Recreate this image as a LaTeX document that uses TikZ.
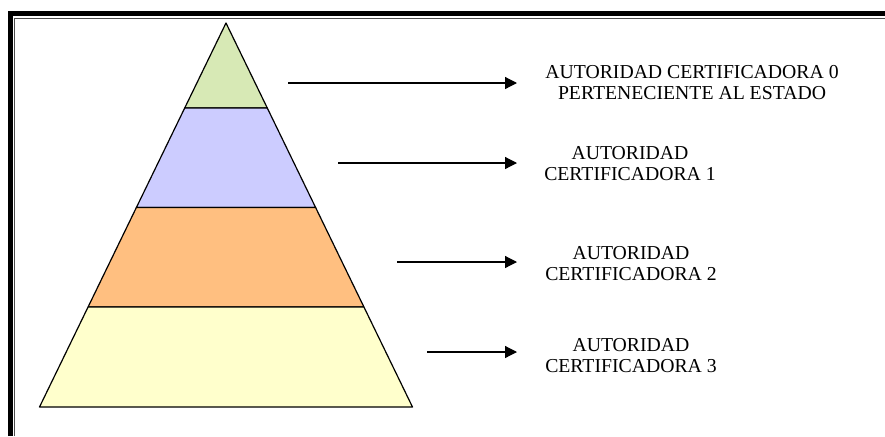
\documentclass[tikz,border=0pt]{standalone}
\usepackage{fontspec}
\setmainfont{Liberation Serif}
\usetikzlibrary{positioning}
\usetikzlibrary{calc}
\usetikzlibrary{arrows.meta}

\definecolor{capaverde}{RGB}{215,233,181}
\definecolor{capalila}{RGB}{204,204,255}
\definecolor{capanaranja}{RGB}{255,191,128}
\definecolor{capaamarilla}{RGB}{255,255,204}

\tikzset{
  capa/.style={draw=black, line width=0.9pt, line join=round},
  flecha/.style={black, line width=0.9pt, -{Triangle[length=9pt,width=9pt]}},
  rotulo/.style={align=center, inner sep=0pt, font=\fontsize{14.8}{16.1}\selectfont}
}

\begin{document}
\begin{tikzpicture}[x=0.75pt,y=-0.75pt]

\useasboundingbox (0,0) rectangle (885,436);

% marco
\draw[black, line width=3.75pt] (10,436)--(10,13.5)--(885,13.5);
\draw[black!70, line width=0.75pt] (14.5,436)--(14.5,18)--(885,18);

% piramide
\coordinate (cima) at (226,23);
\coordinate (izq) at (39.5,407);
\coordinate (der) at (412.5,407);

\coordinate (i1) at ($(cima)!0.2214!(izq)$);
\coordinate (d1) at ($(cima)!0.2214!(der)$);
\coordinate (i2) at ($(cima)!0.4805!(izq)$);
\coordinate (d2) at ($(cima)!0.4805!(der)$);
\coordinate (i3) at ($(cima)!0.7396!(izq)$);
\coordinate (d3) at ($(cima)!0.7396!(der)$);

\draw[capa, fill=capaverde] (cima)--(d1)--(i1)--cycle;
\draw[capa, fill=capalila] (i1)--(d1)--(d2)--(i2)--cycle;
\draw[capa, fill=capanaranja] (i2)--(d2)--(d3)--(i3)--cycle;
\draw[capa, fill=capaamarilla] (i3)--(d3)--(der)--(izq)--cycle;

% nodes
{
\node[rotulo] (ac0) at (692,82.3) {AUTORIDAD CERTIFICADORA 0\\PERTENECIENTE AL ESTADO};
\node[rotulo] (ac1) at (630,163.5) {AUTORIDAD\\CERTIFICADORA 1};
\node[rotulo] (ac2) at (631,263.3) {AUTORIDAD\\CERTIFICADORA 2};
\node[rotulo] (ac3) at (631,355.8) {AUTORIDAD\\CERTIFICADORA 3};
}

% flechas
\coordinate (f0) at (288,83);
\coordinate (f1) at (338,163);
\coordinate (f2) at (397,262);
\coordinate (f3) at (427,352);
\coordinate (p0) at (517,83);
\coordinate (p1) at (517,163);
\coordinate (p2) at (517,262);
\coordinate (p3) at (517,352);

\draw[flecha] (f0)--(p0);
\draw[flecha] (f1)--(p1);
\draw[flecha] (f2)--(p2);
\draw[flecha] (f3)--(p3);

\end{tikzpicture}
\end{document}
